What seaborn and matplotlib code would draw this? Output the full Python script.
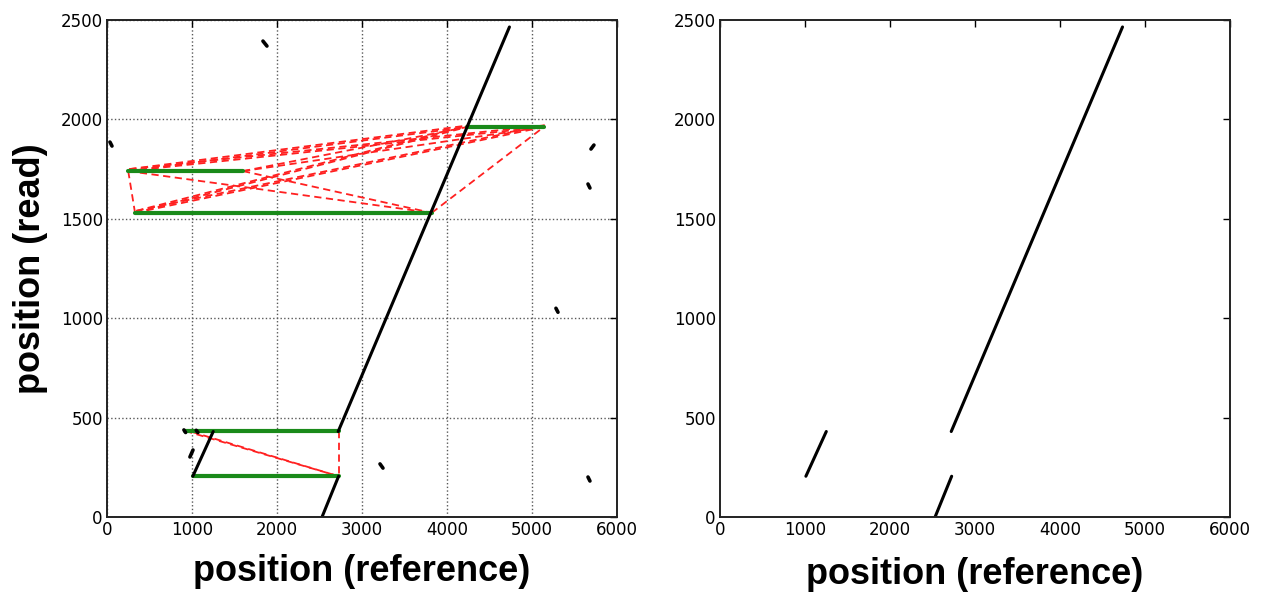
"""
Dot plot of read vs reference alignments, before and after chaining.
"""

import matplotlib
matplotlib.use("Agg")
import matplotlib.pyplot as plt
import pandas as pd
import seaborn as sns

# black alignment segments (x0, y0, x1, y1) shared by both panels
main_x0 = [2530, 2720, 1010]
main_y0 = [0, 430, 205]
main_x1 = [2725, 4735, 1250]
main_y1 = [205, 2465, 430]

# short spurious alignments (left panel only)
tiny_x0 = [1835, 35, 5694, 5659, 5282, 5659, 3212, 976, 905, 1050]
tiny_y0 = [2394, 1886, 1851, 1675, 1050, 201, 267, 302, 438, 436]
tiny_x1 = [1882, 59, 5729, 5682, 5306, 5682, 3247, 1012, 925, 1070]
tiny_y1 = [2369, 1866, 1871, 1655, 1030, 181, 246, 337, 425, 425]

# green chains (horizontal)
green_x0 = [4240, 250, 330, 920, 1010]
green_x1 = [5140, 1600, 3820, 2725, 2730]
green_y = [1962, 1740, 1530, 433, 205]

# red dashed candidate joins
red_x0 = [250, 250, 262, 250, 262, 330, 345, 330, 345, 1600, 1600, 250, 1600, 3820,
          920, 1000, 2725]
red_y0 = [1740, 1740, 1750, 1740, 1750, 1530, 1540, 1530, 1540, 1740, 1740, 1740, 1740, 1530,
          433, 428, 433]
red_x1 = [330, 4240, 4255, 5140, 5150, 4240, 4255, 5140, 5150, 4240, 5140, 3820, 3820, 5140,
          2725, 2725, 2725]
red_y1 = [1530, 1962, 1970, 1962, 1970, 1962, 1970, 1962, 1970, 1962, 1962, 1530, 1530, 1962,
          205, 205, 205]

x_ticks = [0, 1000, 2000, 3000, 4000, 5000, 6000]
y_ticks = [0, 500, 1000, 1500, 2000, 2500]

LABEL_FONT = dict(fontsize=26, fontweight="bold", family="Liberation Sans",
                  color="black")


def segments(x0, y0, x1, y1):
    rows = []
    for i, (a, b, c, d) in enumerate(zip(x0, y0, x1, y1)):
        rows.append({"seg": i, "x": a, "y": b})
        rows.append({"seg": i, "x": c, "y": d})
    return pd.DataFrame(rows)


def draw(ax, df, **kw):
    sns.lineplot(data=df, x="x", y="y", units="seg", estimator=None,
                 sort=False, ax=ax, legend=False, **kw)


def style_axes(ax, grid, xpad):
    ax.set_xlim(0, 6000)
    ax.set_ylim(0, 2500)
    ax.set_xticks(x_ticks)
    ax.set_yticks(y_ticks)
    ax.tick_params(direction="in", top=True, right=True, length=5, width=1,
                   labelsize=12, pad=3, colors="black")
    for s in ax.spines.values():
        s.set_visible(True)
        s.set_color("#222222")
        s.set_linewidth(1.4)
    if grid:
        ax.grid(True, color="0.35", linestyle=":", linewidth=1.0)
        ax.set_axisbelow(True)
    else:
        ax.grid(False)
    ax.set_xlabel("position (reference)", labelpad=xpad, **LABEL_FONT)
    ax.set_ylabel("")


sns.set_style("white")
plt.rcParams["font.family"] = ["DejaVu Sans"]
plt.rcParams["text.color"] = "black"

fig = plt.figure(figsize=(12.63, 5.92), dpi=100)
ax1 = fig.add_axes([0.0847, 0.1267, 0.4038, 0.8395])
ax2 = fig.add_axes([0.5701, 0.1267, 0.4038, 0.8395])

main = segments(main_x0, main_y0, main_x1, main_y1)
tiny = segments(tiny_x0, tiny_y0, tiny_x1, tiny_y1)
green = segments(green_x0, green_y, green_x1, green_y)
red = segments(red_x0, red_y0, red_x1, red_y1)

# left panel: all alignments with chains and joins
draw(ax1, red, color="#ff2020", linewidth=1.3)
for line in ax1.lines:
    line.set_dashes([4, 2.5])
draw(ax1, green, color="#1a8a1a", linewidth=3.0)
draw(ax1, main, color="black", linewidth=2.2)
draw(ax1, tiny, color="black", linewidth=2.6)
style_axes(ax1, grid=True, xpad=11)
ax1.set_ylabel("position (read)", labelpad=9, **LABEL_FONT)

# right panel: retained alignments only
draw(ax2, main, color="black", linewidth=2.2)
style_axes(ax2, grid=False, xpad=13)

fig.savefig("out.png", dpi=100)
